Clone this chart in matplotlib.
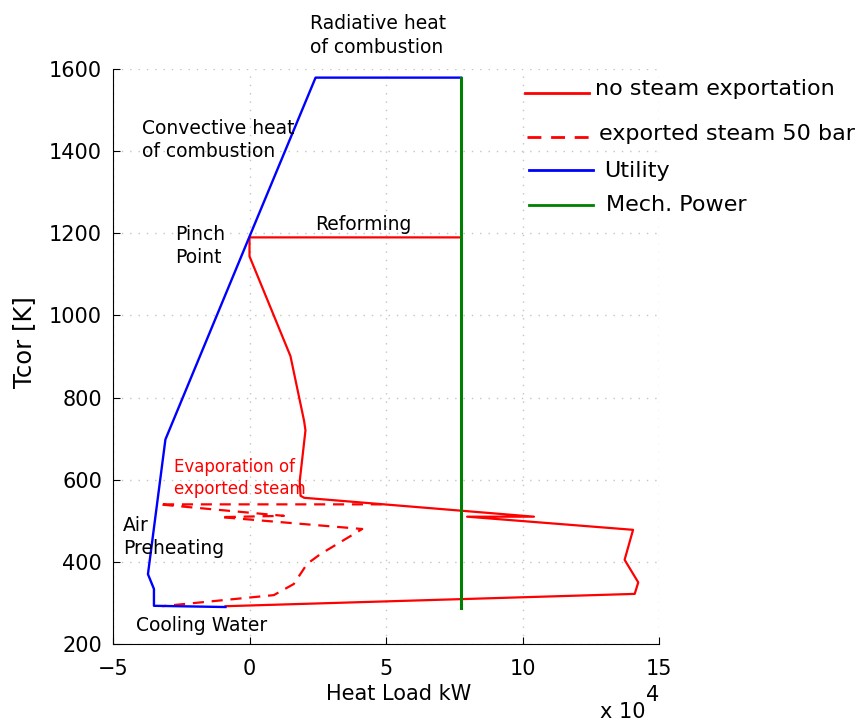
import numpy as np
import matplotlib
matplotlib.use("Agg")
import matplotlib.pyplot as plt
from matplotlib.lines import Line2D

# heat load in units of 1e4 kW, temperature in K
no_steam_q = [7.75, 0.0, 0.0, 1.5, 2.0, 2.05, 1.84, 1.87, 2.0, 10.42, 7.97, 14.05, 13.74, 14.24, 14.11, -0.88]
no_steam_t = [1190, 1190, 1144, 901, 743, 720, 597, 561, 556, 510, 510, 478, 405, 350, 322, 292]

exported_q = [4.85, -3.32, 1.26, -1.06, 4.13, 2.6, 2.11, 1.62, 0.89, -3.2]
exported_t = [540, 540, 512, 509, 480, 419, 395, 346, 319, 292]

utility_q = [7.75, 2.42, 0.0, -3.08, -3.72, -3.5, -3.5, -0.88]
utility_t = [1579, 1579, 1192, 698, 370, 334, 293, 290]

mech_q = [7.75, 7.75]
mech_t = [287, 1579]

x_ticks = [-5, 0, 5, 10, 15]
y_ticks = [200, 400, 600, 800, 1000, 1200, 1400, 1600]

legend_labels = ["no steam exportation", "exported steam 50 bar", "Utility", "Mech. Power"]

RED, BLUE, GREEN = "#ff0000", "#0000ff", "#008000"
W, H = 859, 722

fig = plt.figure(figsize=(W / 100, H / 100), dpi=100)
ax = fig.add_axes([113 / W, 1 - 644 / H, 546 / W, 575 / H])

ax.plot(no_steam_q, no_steam_t, color=RED, lw=1.6, zorder=3)
ax.plot(exported_q, exported_t, color=RED, lw=1.6, dashes=(5, 3.5), zorder=3)
ax.plot(utility_q, utility_t, color=BLUE, lw=1.7, zorder=3)
ax.plot(mech_q, mech_t, color=GREEN, lw=2.2, zorder=4)

ax.set_xlim(-5, 15)
ax.set_ylim(200, 1600)
ax.set_xticks(x_ticks)
ax.set_yticks(y_ticks)
ax.grid(True, linestyle=(0, (1, 5)), color="#c4c4c4", lw=1.0)
for s in ["top", "right"]:
    ax.spines[s].set_visible(False)
ax.tick_params(direction="in", length=5, width=0.8, labelsize=15)
ax.tick_params(axis="x", pad=11)
ax.tick_params(axis="y", pad=8)

ax.set_xlabel("Heat Load kW", fontsize=15)
ax.xaxis.set_label_coords(0.524, -0.07)
ax.set_ylabel("Tcor [K]", fontsize=17.5)
ax.yaxis.set_label_coords(-0.14, 0.525)

fig.text(600 / W, 1 - 712 / H, "x 10", fontsize=15, va="center", ha="left")
fig.text(646 / W, 1 - 695 / H, "4", fontsize=15, va="center", ha="left")

# annotations
txt = dict(fontsize=13.5, va="center", ha="left", linespacing=1.3, clip_on=False)
ax.text(2.23, 1681, "Radiative heat\nof combustion", **txt)
ax.text(-3.93, 1427, "Convective heat\nof combustion", **txt)
ax.text(-2.74, 1169, "Pinch\nPoint", **txt)
ax.text(2.42, 1221, "Reforming", **txt)
ax.text(-4.63, 460, "Air\nPreheating", **txt)
ax.text(-4.14, 246, "Cooling Water", **txt)
ax.text(-2.75, 604, "Evaporation of\nexported steam", color=RED,
        fontsize=12, va="center", ha="left", linespacing=1.3)

# legend entries, placed by hand
entries = [
    (RED, "-", 525, 589, 93, 595, 89),
    (RED, "--", 527, 592, 137, 599, 134),
    (BLUE, "-", 529, 593, 170, 604, 171),
    (GREEN, "-", 529, 593, 205, 606, 205),
]
for (c, ls, x0, x1, yl, xt, yt), lab in zip(entries, legend_labels):
    ln = Line2D([x0 / W, x1 / W], [1 - yl / H, 1 - yl / H], color=c, lw=2.0,
                transform=fig.transFigure)
    if ls == "--":
        ln.set_dashes((5, 3.5))
    fig.add_artist(ln)
    fig.text(xt / W, 1 - yt / H, lab, fontsize=16, va="center", ha="left")

fig.savefig("out.png", dpi=100, facecolor="white")
